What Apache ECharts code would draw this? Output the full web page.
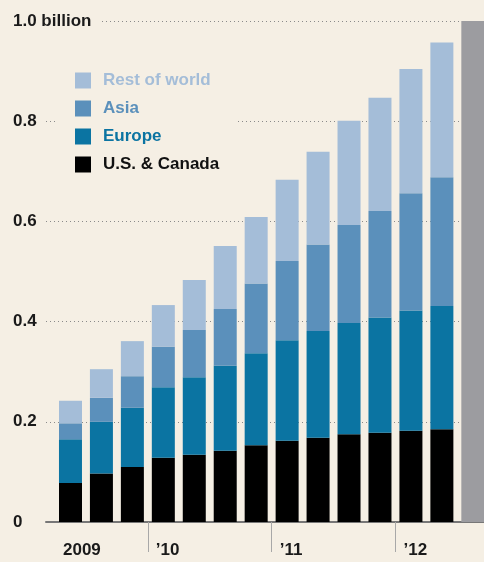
<!DOCTYPE html>
<html>
<head>
<meta charset="utf-8">
<script src="https://cdn.jsdelivr.net/npm/echarts@6/dist/echarts.min.js"></script>
<style>
html,body{margin:0;padding:0;background:#f5efe4;}
#chart{width:484px;height:562px;}
</style>
</head>
<body>
<div id="chart"></div>
<script>
// Quarterly users (billions), Q2 2009 – Q3 2012
const categories = ['Q2 2009','Q3 2009','Q4 2009','Q1 2010','Q2 2010','Q3 2010','Q4 2010','Q1 2011','Q2 2011','Q3 2011','Q4 2011','Q1 2012','Q2 2012','Q3 2012'];
const usCanada   = [0.078,0.097,0.110,0.128,0.134,0.142,0.153,0.162,0.168,0.175,0.178,0.182,0.185,null];
const europe     = [0.087,0.103,0.118,0.141,0.155,0.170,0.184,0.201,0.213,0.222,0.230,0.240,0.246,null];
const asia       = [0.032,0.048,0.063,0.081,0.094,0.113,0.139,0.158,0.173,0.196,0.213,0.234,0.257,null];
const restOfWorld= [0.045,0.057,0.070,0.083,0.100,0.126,0.133,0.162,0.185,0.208,0.226,0.248,0.269,null];
const total      = [null,null,null,null,null,null,null,null,null,null,null,null,null,1.0];
const yearLabels = ['2009',"\u201910","\u201911","\u201912"];
const yTickLabels = {0:'0',0.2:'0.2',0.4:'0.4',0.6:'0.6',0.8:'0.8',1:'1.0 billion'};

// indices where a new year starts
const yearStarts = [];
categories.forEach((c,i)=>{ if(i===0 || c.slice(-4)!==categories[i-1].slice(-4)) yearStarts.push(i); });

const colors = {row:'#a4bdd8', asia:'#5b90bb', europe:'#0b74a2', us:'#000000', total:'#9c9ca0'};
const font = '"Liberation Sans", Arial, sans-serif';
const bg = '#f5efe4';

const chart = echarts.init(document.getElementById('chart'));
chart.setOption({
  backgroundColor:bg,
  animation:false,
  grid:[
    {left:46,right:0,top:21,bottom:40,containLabel:false,outerBoundsMode:'none'},
    {left:55,width:433.3,top:21,bottom:40,containLabel:false,outerBoundsMode:'none'}
  ],
  legend:{
    orient:'vertical', left:55, top:64,
    padding:[8,16,8,20],
    backgroundColor:bg,
    itemWidth:16,itemHeight:16,itemGap:11,
    icon:'rect',
    textStyle:{fontFamily:font,fontSize:17,fontWeight:'bold',padding:[0,0,0,7]},
    data:[
      {name:'Rest of world',textStyle:{color:colors.row}},
      {name:'Asia',textStyle:{color:colors.asia}},
      {name:'Europe',textStyle:{color:colors.europe}},
      {name:'U.S. & Canada',textStyle:{color:'#111'}}
    ]
  },
  xAxis:[
    {
      gridIndex:0,type:'value', min:-0.29, max:13.86,
      axisLine:{show:true,onZero:false,lineStyle:{color:'#777',width:2}},
      splitLine:{show:false},
      axisTick:{show:true,customValues:yearStarts.filter(v=>v>0),length:30,lineStyle:{color:'#a8a8a8',width:1}},
      axisLabel:{
        customValues:yearStarts,
        formatter:(v)=>yearLabels[yearStarts.indexOf(v)],
        align:'left', padding:[0,0,0,8], margin:20,
        fontFamily:font,fontSize:17,fontWeight:'bold',color:'#1a1a1a'
      }
    },
    {
      gridIndex:1,type:'category',data:categories,boundaryGap:true,
      axisLine:{show:false},axisTick:{show:false},axisLabel:{show:false},splitLine:{show:false}
    }
  ],
  yAxis:[
    {
      gridIndex:0,type:'value',min:0,max:1,interval:0.2,
      axisLine:{show:false},axisTick:{show:false},
      splitLine:{show:true,lineStyle:{color:'#8a8a8a',type:[1,3],width:1}},
      axisLabel:{
        formatter:(v)=>yTickLabels[Math.round(v*10)/10],
        align:'left',margin:33,padding:[2,8,2,0],backgroundColor:bg,
        fontFamily:font,fontSize:17,fontWeight:'bold',color:'#1a1a1a'
      }
    },
    {
      gridIndex:1,type:'value',min:0,max:1,interval:0.2,show:false,
      splitLine:{show:false}
    }
  ],
  series:[
    {name:'U.S. & Canada',type:'bar',xAxisIndex:1,yAxisIndex:1,stack:'t',barWidth:23,data:usCanada,itemStyle:{color:colors.us}},
    {name:'Europe',type:'bar',xAxisIndex:1,yAxisIndex:1,stack:'t',barWidth:23,data:europe,itemStyle:{color:colors.europe}},
    {name:'Asia',type:'bar',xAxisIndex:1,yAxisIndex:1,stack:'t',barWidth:23,data:asia,itemStyle:{color:colors.asia}},
    {name:'Rest of world',type:'bar',xAxisIndex:1,yAxisIndex:1,stack:'t',barWidth:23,data:restOfWorld,itemStyle:{color:colors.row}},
    {name:'Total',type:'bar',xAxisIndex:1,yAxisIndex:1,stack:'t',barWidth:23,data:total,itemStyle:{color:colors.total}}
  ]
});
</script>
</body>
</html>
